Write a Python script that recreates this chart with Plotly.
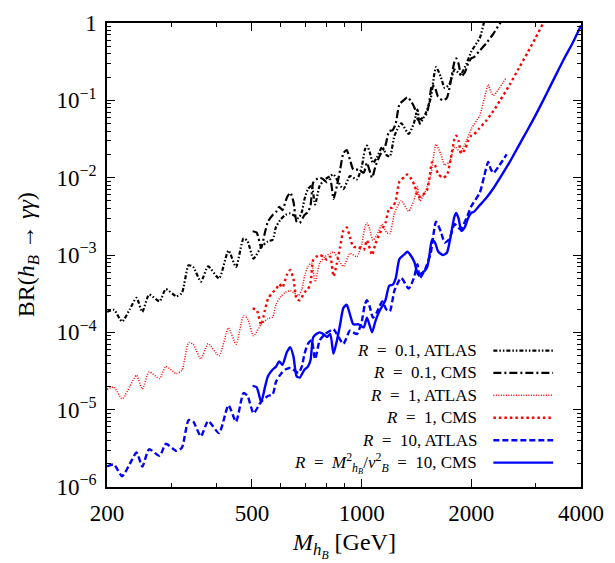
import plotly.graph_objects as go

# ---------------- data ----------------
mass_atlas = [200, 209, 220, 231, 241, 250, 261, 279, 290, 310,
              321, 335, 345, 362, 379, 406, 431, 452, 474, 486,
              505, 530, 553, 570, 582, 600, 618, 637, 671, 685,
              697, 712, 729, 745, 767, 793, 820, 837, 855, 891,
              929, 970, 1001, 1020, 1034, 1052, 1074, 1100, 1139, 1170,
              1195, 1231, 1284, 1346, 1390, 1423, 1444, 1495, 1548, 1600,
              1650, 1690, 1740, 1800, 1867, 1940, 2001, 2110, 2170, 2225,
              2260, 2300, 2390, 2500]

mass_cms = [502, 515, 530, 542, 553, 570, 582, 594, 606, 624,
            637, 650, 663, 676, 697, 712, 724, 736, 751, 767,
            785, 803, 820, 837, 855, 873, 891, 910, 929, 949,
            980, 1013, 1034, 1068, 1091, 1120, 1162, 1190, 1215, 1240,
            1270, 1310, 1335, 1371, 1398, 1428, 1460, 1510, 1535, 1560,
            1590, 1620, 1670, 1713, 1755, 1796, 1818, 1846, 1877, 1920,
            1960, 2000, 2030, 2100, 2200, 2300, 2400, 2550, 2700, 2850,
            3000, 3150, 3300, 3450, 3600, 3800, 4000]

br_R01_atlas = [1.84e-4, 1.95e-4, 1.38e-4, 1.99e-4, 2.79e-4, 1.84e-4, 3.07e-4, 2.53e-4, 3.62e-4, 2.93e-4,
                3.22e-4, 7.35e-4, 7.0e-4, 4.52e-4, 7.13e-4, 4.98e-4, 1.14e-3, 7.0e-4, 1.64e-3, 1.51e-3,
                9.0e-4, 1.27e-3, 1.5e-3, 1.58e-3, 2.3e-3, 2.9e-3, 3.3e-3, 3.45e-3, 3.0e-3, 3.6e-3,
                5.3e-3, 7.1e-3, 7.85e-3, 4.5e-3, 7.85e-3, 9.5e-3, 1.05e-2, 1.1e-2, 9.5e-3, 7.1e-3,
                1.05e-2, 9.5e-3, 1.4e-2, 2.27e-2, 2.6e-2, 2.16e-2, 1.55e-2, 1.8e-2, 2.5e-2, 1.96e-2,
                1.88e-2, 3.5e-2, 5.05e-2, 3.68e-2, 5.0e-2, 7.6e-2, 5.0e-2, 6.6e-2, 0.107, 0.27,
                0.2, 0.145, 0.16, 0.25, 0.215, 0.3, 0.43, 0.64, 1.05, 1.6]

br_R01_cms = [2.03e-3, 1.95e-3, 1.25e-3, 1.9e-3, 2.7e-3, 3.3e-3, 3.6e-3, 4.2e-3, 3.8e-3, 5.6e-3,
              6.4e-3, 4.85e-3, 2.7e-3, 2.6e-3, 3.3e-3, 3.6e-3, 4.4e-3, 8.6e-3, 9.5e-3, 1.0e-2,
              9.5e-3, 8.7e-3, 9.5e-3, 5.3e-3, 7.8e-3, 1.27e-2, 2.07e-2, 2.27e-2, 1.7e-2, 1.27e-2,
              1.27e-2, 1.16e-2, 1.55e-2, 1.0e-2, 1.4e-2, 1.9e-2, 2.6e-2, 4.0e-2, 4.1e-2, 5.0e-2,
              8.9e-2, 0.102, 0.11, 9.5e-2, 7.9e-2, 5.6e-2, 5.8e-2, 6.8e-2, 0.1, 0.158,
              0.145, 0.112, 0.1, 0.107, 0.174, 0.31, 0.35, 0.295, 0.205, 0.23,
              0.3, 0.35, 0.36, 0.43, 0.55, 0.73, 1.0, 1.6]

br_R1_atlas = [1.84e-5, 1.95e-5, 1.38e-5, 1.99e-5, 2.79e-5, 1.84e-5, 3.07e-5, 2.53e-5, 3.62e-5, 2.93e-5,
               3.22e-5, 7.35e-5, 7.0e-5, 4.52e-5, 7.13e-5, 4.98e-5, 1.14e-4, 7.0e-5, 1.64e-4, 1.51e-4,
               9.0e-5, 1.27e-4, 1.5e-4, 1.58e-4, 2.3e-4, 2.9e-4, 3.3e-4, 3.45e-4, 3.0e-4, 3.6e-4,
               5.3e-4, 7.1e-4, 7.85e-4, 4.5e-4, 7.85e-4, 9.5e-4, 1.05e-3, 1.1e-3, 9.5e-4, 7.1e-4,
               1.05e-3, 9.5e-4, 1.4e-3, 2.27e-3, 2.6e-3, 2.16e-3, 1.55e-3, 1.8e-3, 2.5e-3, 1.96e-3,
               1.88e-3, 3.5e-3, 5.05e-3, 3.68e-3, 5.0e-3, 7.6e-3, 5.0e-3, 6.6e-3, 1.07e-2, 2.7e-2,
               2.0e-2, 1.45e-2, 1.6e-2, 2.5e-2, 2.15e-2, 3.0e-2, 4.3e-2, 6.4e-2, 0.105, 0.16,
               0.13, 0.115, 0.145, 0.2]

br_R1_cms = [2.03e-4, 1.95e-4, 1.25e-4, 1.9e-4, 2.7e-4, 3.3e-4, 3.6e-4, 4.2e-4, 3.8e-4, 5.6e-4,
             6.4e-4, 4.85e-4, 2.7e-4, 2.6e-4, 3.3e-4, 3.6e-4, 4.4e-4, 8.6e-4, 9.5e-4, 1.0e-3,
             9.5e-4, 8.7e-4, 9.5e-4, 5.3e-4, 7.8e-4, 1.27e-3, 2.07e-3, 2.27e-3, 1.7e-3, 1.27e-3,
             1.27e-3, 1.16e-3, 1.55e-3, 1.0e-3, 1.4e-3, 1.9e-3, 2.6e-3, 4.0e-3, 4.1e-3, 5.0e-3,
             8.9e-3, 1.02e-2, 1.1e-2, 9.5e-3, 7.9e-3, 5.6e-3, 5.8e-3, 6.8e-3, 1.0e-2, 1.58e-2,
             1.45e-2, 1.12e-2, 1.0e-2, 1.07e-2, 1.74e-2, 3.1e-2, 3.5e-2, 2.95e-2, 2.05e-2, 2.3e-2,
             3.0e-2, 3.5e-2, 3.6e-2, 4.3e-2, 5.5e-2, 7.3e-2, 0.1, 0.16, 0.26, 0.41,
             0.64, 1.0, 1.55]

br_R10_atlas = [1.84e-6, 1.95e-6, 1.38e-6, 1.99e-6, 2.79e-6, 1.84e-6, 3.07e-6, 2.53e-6, 3.62e-6, 2.93e-6,
                3.22e-6, 7.35e-6, 7.0e-6, 4.52e-6, 7.13e-6, 4.98e-6, 1.14e-5, 7.0e-6, 1.64e-5, 1.51e-5,
                9.0e-6, 1.27e-5, 1.5e-5, 1.58e-5, 2.3e-5, 2.9e-5, 3.3e-5, 3.45e-5, 3.0e-5, 3.6e-5,
                5.3e-5, 7.1e-5, 7.85e-5, 4.5e-5, 7.85e-5, 9.5e-5, 1.05e-4, 1.1e-4, 9.5e-5, 7.1e-5,
                1.05e-4, 9.5e-5, 1.4e-4, 2.27e-4, 2.6e-4, 2.16e-4, 1.55e-4, 1.8e-4, 2.5e-4, 1.96e-4,
                1.88e-4, 3.5e-4, 5.05e-4, 3.68e-4, 5.0e-4, 7.6e-4, 5.0e-4, 6.6e-4, 1.07e-3, 2.7e-3,
                2.0e-3, 1.45e-3, 1.6e-3, 2.5e-3, 2.15e-3, 3.0e-3, 4.3e-3, 6.4e-3, 1.05e-2, 1.6e-2,
                1.3e-2, 1.15e-2, 1.45e-2, 2.0e-2]

br_R10_cms = [2.03e-5, 1.95e-5, 1.25e-5, 1.9e-5, 2.7e-5, 3.3e-5, 3.6e-5, 4.2e-5, 3.8e-5, 5.6e-5,
              6.4e-5, 4.85e-5, 2.7e-5, 2.6e-5, 3.3e-5, 3.6e-5, 4.4e-5, 8.6e-5, 9.5e-5, 1.0e-4,
              9.5e-5, 8.7e-5, 9.5e-5, 5.3e-5, 7.8e-5, 1.27e-4, 2.07e-4, 2.27e-4, 1.7e-4, 1.27e-4,
              1.27e-4, 1.16e-4, 1.55e-4, 1.0e-4, 1.4e-4, 1.9e-4, 2.6e-4, 4.0e-4, 4.1e-4, 5.0e-4,
              8.9e-4, 1.02e-3, 1.1e-3, 9.5e-4, 7.9e-4, 5.6e-4, 5.8e-4, 6.8e-4, 1.0e-3, 1.58e-3,
              1.45e-3, 1.12e-3, 1.0e-3, 1.07e-3, 1.74e-3, 3.1e-3, 3.5e-3, 2.95e-3, 2.05e-3, 2.3e-3,
              3.0e-3, 3.5e-3, 3.6e-3, 4.3e-3, 5.5e-3, 7.3e-3, 1.0e-2, 1.6e-2, 2.6e-2, 4.1e-2,
              6.4e-2, 0.1, 0.155, 0.235, 0.35, 0.56, 0.93]

x_tickvals = [200, 500, 1000, 2000, 4000]
x_ticktext = ["200", "500", "1000", "2000", "4000"]
x_minor = [300, 400, 600, 700, 800, 900, 3000]
y_tickvals = [1e-6, 1e-5, 1e-4, 1e-3, 1e-2, 1e-1, 1]
y_ticktext = ["10<sup>\u22126</sup>", "10<sup>\u22125</sup>", "10<sup>\u22124</sup>",
              "10<sup>\u22123</sup>", "10<sup>\u22122</sup>", "10<sup>\u22121</sup>", "1"]
y_minor = [m * 10.0 ** e for e in range(-6, 0) for m in range(2, 10)]

EQ = "\u2002=\u2002"
legend_labels = [
    "<i>R</i>" + EQ + "0.1, ATLAS",
    "<i>R</i>" + EQ + "0.1, CMS",
    "<i>R</i>" + EQ + "1, ATLAS",
    "<i>R</i>" + EQ + "1, CMS",
    "<i>R</i>" + EQ + "10, ATLAS",
    "<i>R</i>" + EQ + "<i>M</i><sup>2</sup><sub><i>h<sub>B</sub></i></sub>/<i>v</i><sup>2</sup><sub><i>B</i></sub>"
    + EQ + "10, CMS",
]

# ---------------- styles ----------------
FONT = "Liberation Serif"
styles = [
    dict(color="black", width=2.2, dash="4px,2px,1.5px,2px,1.5px,2px"),
    dict(color="black", width=2.2, dash="8px,3px,2px,3px"),
    dict(color="#ff0000", width=1.5, dash="1px,1.5px"),
    dict(color="#ff0000", width=2.4, dash="2.5px,3px"),
    dict(color="#0000ff", width=2.4, dash="6px,3px"),
    dict(color="#0000ff", width=2.4, dash="solid"),
]
series = [
    (mass_atlas[:len(br_R01_atlas)], br_R01_atlas),
    (mass_cms[:len(br_R01_cms)], br_R01_cms),
    (mass_atlas[:len(br_R1_atlas)], br_R1_atlas),
    (mass_cms[:len(br_R1_cms)], br_R1_cms),
    (mass_atlas[:len(br_R10_atlas)], br_R10_atlas),
    (mass_cms[:len(br_R10_cms)], br_R10_cms),
]

fig = go.Figure()
for (xs, ys), st, lab in zip(series, styles, legend_labels):
    fig.add_trace(go.Scatter(
        x=xs, y=ys, mode="lines", name=lab, showlegend=False,
        line=dict(color=st["color"], width=st["width"], dash=st["dash"],
                  shape="spline", smoothing=0.6),
    ))

# plot area geometry (pixels)
L, R, T, B = 107, 583, 11, 487
W, H = R - L, B - T

def px(xp):
    return (xp - L) / W

def py(yp):
    return (B - yp) / H

annotations = []
shapes = []
row_y = [347, 370, 393, 416, 439, 462]
for lab, st, yy in zip(legend_labels, styles, row_y):
    annotations.append(dict(
        text=lab, xref="paper", yref="paper", x=px(481), y=py(yy),
        xanchor="right", yanchor="middle", showarrow=False,
        font=dict(family=FONT, size=17, color="black"),
    ))
    shapes.append(dict(
        type="line", xref="paper", yref="paper",
        x0=px(495), x1=px(555), y0=py(yy), y1=py(yy),
        line=dict(color=st["color"], width=st["width"], dash=st["dash"]),
    ))

annotations.append(dict(
    text="BR(<i>h</i><sub><i>B</i></sub> \u2192 <i>\u03b3\u03b3</i>)",
    xref="paper", yref="paper", x=px(28), y=0.5, textangle=-90,
    xanchor="center", yanchor="middle", showarrow=False,
    font=dict(family=FONT, size=24, color="black"),
))
annotations.append(dict(
    text="<i>M</i><sub><i>h<sub>B</sub></i></sub> [GeV]",
    xref="paper", yref="paper", x=0.5, y=py(547),
    xanchor="center", yanchor="middle", showarrow=False,
    font=dict(family=FONT, size=24, color="black"),
))

axis_common = dict(
    type="log", showgrid=False, zeroline=False,
    showline=True, linecolor="black", linewidth=1.5, mirror="ticks",
    ticks="inside", ticklen=8, tickwidth=1.2, tickcolor="black",
    tickfont=dict(family=FONT, size=23, color="black"),
)

fig.update_layout(
    width=615, height=563,
    margin=dict(l=L, r=615 - R, t=T, b=563 - B),
    plot_bgcolor="white", paper_bgcolor="white",
    xaxis=dict(**axis_common, range=[2.30103, 3.60206],
               tickmode="array", tickvals=x_tickvals, ticktext=x_ticktext,
               ticklabelstandoff=5,
               minor=dict(tickmode="array", tickvals=x_minor, ticks="inside",
                          ticklen=4, tickwidth=1, tickcolor="black", showgrid=False)),
    yaxis=dict(**axis_common, range=[-6, 0],
               tickmode="array", tickvals=y_tickvals, ticktext=y_ticktext,
               ticklabelstandoff=4,
               minor=dict(tickmode="array", tickvals=y_minor, ticks="inside",
                          ticklen=4, tickwidth=1, tickcolor="black", showgrid=False)),
    annotations=annotations,
    shapes=shapes,
    showlegend=False,
)

fig.write_html("out.html")
